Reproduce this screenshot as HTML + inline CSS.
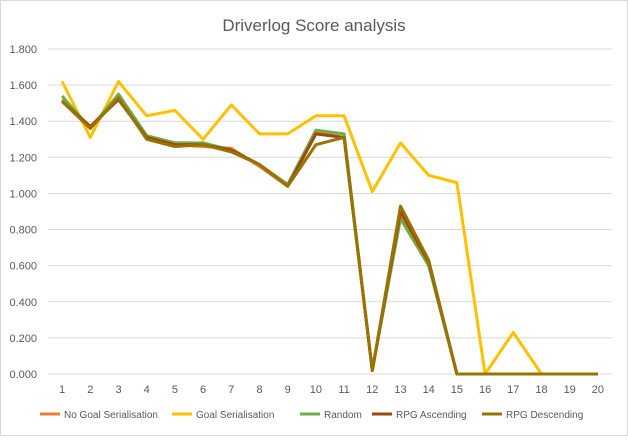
<!DOCTYPE html>
<html><head><meta charset="utf-8"><style>
body{margin:0;background:#fff;font-family:"Liberation Sans",sans-serif}
svg text{font-family:"Liberation Sans",sans-serif}
</style></head><body>
<svg width="628" height="436">
<rect x="0.5" y="0.5" width="627" height="435" fill="#fff" stroke="#d9d9d9"/>
<text x="314" y="31" text-anchor="middle" font-size="17" fill="#595959">Driverlog Score analysis</text>
<g id="grid"></g><g id="series"></g><g id="legend"></g>
</svg>
<script>
const categories=[1,2,3,4,5,6,7,8,9,10,11,12,13,14,15,16,17,18,19,20];
const yTicks=[0,0.2,0.4,0.6,0.8,1.0,1.2,1.4,1.6,1.8];
const seriesNames=["No Goal Serialisation","Goal Serialisation","Random","RPG Ascending","RPG Descending"];
const seriesColors=["#ED7D31","#FFC000","#70AD47","#9E480E","#997300"];
const noGoal=[1.52,1.37,1.53,1.32,1.27,1.26,1.25,1.15,1.04,1.34,1.31,0.02,0.89,0.62,0,0,0,0,0,0];
const goalSer=[1.62,1.31,1.62,1.43,1.46,1.30,1.49,1.33,1.33,1.43,1.43,1.01,1.28,1.10,1.06,0,0.23,0,0,0];
const randomS=[1.54,1.36,1.55,1.32,1.28,1.28,1.24,1.16,1.05,1.35,1.33,0.02,0.86,0.60,0,0,0,0,0,0];
const rpgAsc=[1.51,1.37,1.52,1.31,1.27,1.27,1.24,1.16,1.04,1.33,1.31,0.02,0.90,0.62,0,0,0,0,0,0];
const rpgDesc=[1.51,1.36,1.53,1.30,1.26,1.27,1.23,1.16,1.04,1.27,1.31,0.02,0.93,0.63,0,0,0,0,0,0];
const allSeries=[noGoal,goalSer,randomS,rpgAsc,rpgDesc];
const NS="http://www.w3.org/2000/svg";
const x0=48,x1=612,y0=374,y1=49;
function xs(i){return x0+(x1-x0)*(i+0.5)/categories.length;}
function ys(v){return y0-(y0-y1)*v/1.8;}
function mk(t,a,p){const e=document.createElementNS(NS,t);for(const k in a)e.setAttribute(k,a[k]);p.appendChild(e);return e;}
const g=document.getElementById('grid');
yTicks.forEach((v,i)=>{
 const l=mk('line',{x1:x0,x2:x1,y1:ys(v),y2:ys(v),stroke:'#d9d9d9','stroke-width':1},g);
 
 
 const t=mk('text',{x:37,y:ys(v)+4,'text-anchor':'end','font-size':11,fill:'#595959'},g);
 t.textContent=v.toFixed(3);
 
 
});
categories.forEach((c,i)=>{
 const t=mk('text',{x:xs(i),y:393,'text-anchor':'middle','font-size':11,fill:'#595959'},g);
 t.textContent=c;
 
 
});
const sg=document.getElementById('series');
allSeries.forEach((s,k)=>{
 const p=mk('polyline',{points:s.map((v,i)=>xs(i)+','+ys(v)).join(' '),fill:'none',stroke:seriesColors[k],'stroke-width':3,'stroke-linejoin':'round'},sg);
 
 
});
const lg=document.getElementById('legend');
const lx=[40,172,300,372,482];
seriesNames.forEach((n,k)=>{
 const gg=mk('g',{},lg);
 
 
 mk('line',{x1:lx[k],x2:lx[k]+20,y1:414,y2:414,stroke:seriesColors[k],'stroke-width':3},gg);
 const t=mk('text',{x:lx[k]+24,y:418,'font-size':10,fill:'#595959'},gg);
 t.textContent=n;
});
</script>
</body></html>
